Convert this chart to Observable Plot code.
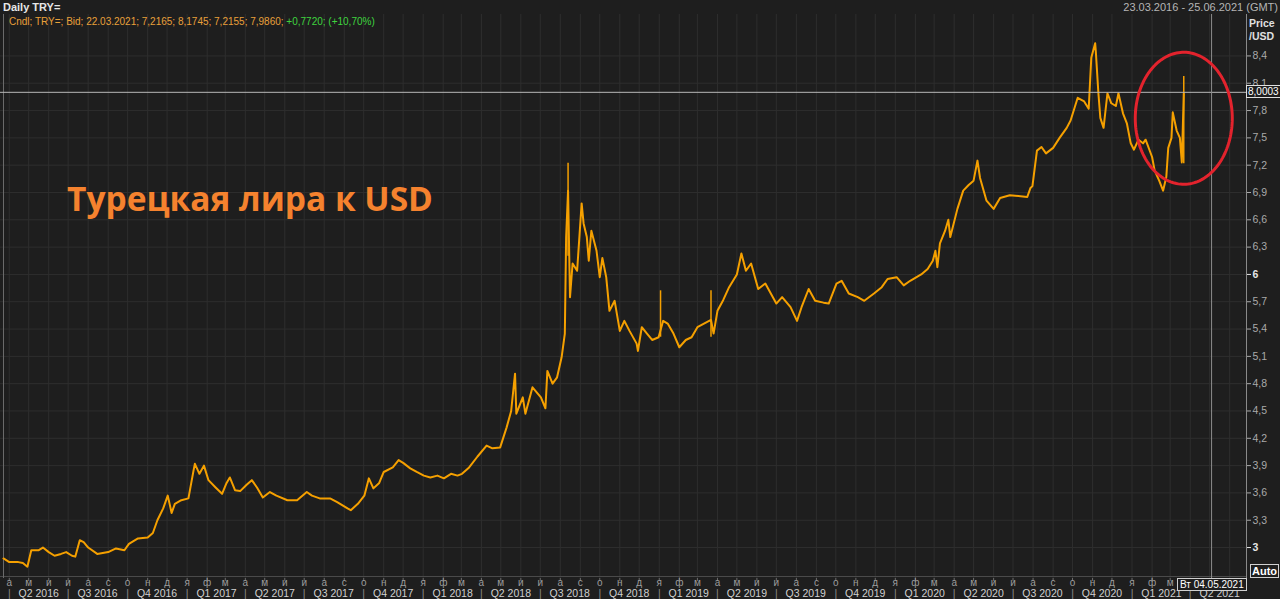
<!DOCTYPE html>
<html><head><meta charset="utf-8">
<script src="https://cdn.jsdelivr.net/npm/d3@7"></script>
<script src="https://cdn.jsdelivr.net/npm/@observablehq/plot@0.6"></script>
<style>
body{margin:0;background:#1e1e1e;}
#wrap{position:relative;width:1280px;height:599px;overflow:hidden;background:#1e1e1e;font-family:"Liberation Sans",Arial,sans-serif;}
#chart{position:absolute;left:0;top:0;}
.ov{position:absolute;white-space:nowrap;}
</style></head><body>
<div id="wrap">
<div id="chart"></div>
<div class="ov" style="left:3px;top:1px;font-size:11px;font-weight:bold;color:#e6e6e6;">Daily TRY=</div>
<div class="ov" style="left:9px;top:16px;font-size:10px;color:#e9a03a;">Cndl; TRY=; Bid; 22.03.2021; 7,2165; 8,1745; 7,2155; 7,9860; <span style="color:#3ed43e">+0,7720; (+10,70%)</span></div>
<div class="ov" style="right:2px;top:1px;font-size:11px;color:#b5b5b5;">23.03.2016 - 25.06.2021 (GMT)</div>
<div class="ov" style="left:1249px;top:17px;font-size:10.5px;font-weight:bold;color:#e0e0e0;line-height:13px;">Price<br>/USD</div>
<div class="ov" style="left:67px;top:175px;font-family:'Open Sans',sans-serif;font-size:33.5px;font-weight:bold;color:#f5822e;">Турецкая лира к USD</div>
<div class="ov" style="left:1246px;top:85px;border:1px solid #e0e0e0;background:#1e1e1e;color:#fff;font-size:10px;padding:0 1px;line-height:11px;">8,0003</div>
<div class="ov" style="left:1177px;top:578px;border:1px solid #d0d0d0;background:#1e1e1e;color:#fff;font-size:10px;padding:0 2px;line-height:11px;">Вт 04.05.2021</div>
<div class="ov" style="left:1250px;top:564px;border:1px solid #d0d0d0;color:#fff;font-weight:bold;font-size:11px;padding:0 1px;line-height:12px;">Auto</div>
</div>
<script>
const dates = [
"2016-03-23","2016-04-01","2016-04-15","2016-04-22","2016-04-29","2016-05-05","2016-05-16","2016-05-23","2016-06-01","2016-06-10",
"2016-06-20","2016-06-28","2016-07-07","2016-07-12","2016-07-19","2016-07-25","2016-08-01","2016-08-15","2016-09-01","2016-09-13",
"2016-09-26","2016-10-03","2016-10-17","2016-11-01","2016-11-09","2016-11-16","2016-11-25","2016-12-02","2016-12-08","2016-12-13",
"2016-12-23","2017-01-03","2017-01-11","2017-01-13","2017-01-20","2017-01-27","2017-02-03","2017-02-14","2017-02-24","2017-03-03",
"2017-03-08","2017-03-16","2017-03-24","2017-04-03","2017-04-11","2017-04-19","2017-04-28","2017-05-09","2017-05-19","2017-06-05",
"2017-06-20","2017-07-05","2017-07-13","2017-07-25","2017-08-10","2017-08-21","2017-09-06","2017-09-11","2017-09-22","2017-10-02",
"2017-10-09","2017-10-16","2017-10-25","2017-11-01","2017-11-15","2017-11-24","2017-12-01","2017-12-12","2017-12-22","2018-01-02",
"2018-01-12","2018-01-23","2018-02-02","2018-02-13","2018-02-23","2018-03-02","2018-03-13","2018-03-26","2018-04-09","2018-04-18",
"2018-04-30","2018-05-10","2018-05-17","2018-05-23","2018-05-25","2018-06-04","2018-06-08","2018-06-19","2018-07-02","2018-07-09",
"2018-07-12","2018-07-20","2018-07-27","2018-08-03","2018-08-08","2018-08-10","2018-08-13","2018-08-16","2018-08-20","2018-08-27",
"2018-09-03","2018-09-06","2018-09-11","2018-09-14","2018-09-18","2018-09-26","2018-10-01","2018-10-05","2018-10-11","2018-10-16",
"2018-10-24","2018-11-01","2018-11-08","2018-11-16","2018-11-27","2018-11-29","2018-12-05","2018-12-13","2018-12-21","2018-12-31",
"2019-01-07","2019-01-14","2019-01-23","2019-02-01","2019-02-11","2019-02-20","2019-03-01","2019-03-14","2019-03-22","2019-03-26",
"2019-04-01","2019-04-10","2019-04-19","2019-05-01","2019-05-08","2019-05-15","2019-05-23","2019-06-03","2019-06-14","2019-07-01",
"2019-07-10","2019-07-23","2019-08-02","2019-08-09","2019-08-20","2019-08-30","2019-09-12","2019-09-20","2019-10-02","2019-10-10",
"2019-10-21","2019-11-04","2019-11-14","2019-11-29","2019-12-11","2019-12-20","2020-01-03","2020-01-14","2020-01-24","2020-02-10",
"2020-02-20","2020-02-28","2020-03-03","2020-03-06","2020-03-10","2020-03-18","2020-03-23","2020-03-26","2020-04-06","2020-04-15",
"2020-04-23","2020-05-01","2020-05-07","2020-05-11","2020-05-21","2020-06-01","2020-06-11","2020-06-26","2020-07-23","2020-07-28",
"2020-07-31","2020-08-07","2020-08-14","2020-08-21","2020-09-01","2020-09-11","2020-09-22","2020-09-28","2020-10-09","2020-10-19",
"2020-10-26","2020-10-30","2020-11-05","2020-11-06","2020-11-10","2020-11-13","2020-11-18","2020-11-24","2020-11-30","2020-12-07",
"2020-12-11","2020-12-18","2020-12-24","2020-12-30","2021-01-04","2021-01-11","2021-01-18","2021-01-22","2021-02-01","2021-02-05",
"2021-02-12","2021-02-18","2021-02-23","2021-02-26","2021-03-03","2021-03-05","2021-03-11","2021-03-16","2021-03-19","2021-03-22"
];
const closes = [
2.88,2.84,2.84,2.83,2.79,2.97,2.97,3.00,2.95,2.91,
2.93,2.95,2.91,2.90,3.08,3.06,3.00,2.93,2.95,2.99,
2.97,3.04,3.10,3.11,3.16,3.30,3.43,3.57,3.38,3.48,
3.52,3.54,3.85,3.92,3.81,3.90,3.74,3.66,3.59,3.71,
3.77,3.63,3.62,3.69,3.74,3.66,3.55,3.61,3.57,3.52,
3.52,3.61,3.57,3.54,3.54,3.50,3.43,3.41,3.48,3.57,
3.76,3.65,3.71,3.83,3.88,3.96,3.93,3.87,3.83,3.79,
3.77,3.79,3.76,3.81,3.79,3.81,3.88,4.00,4.12,4.09,
4.10,4.32,4.50,4.91,4.47,4.65,4.47,4.76,4.65,4.53,
4.94,4.80,4.87,5.09,5.35,6.41,6.92,5.75,6.12,6.04,
6.78,6.56,6.41,6.15,6.48,6.26,5.97,6.18,5.97,5.60,
5.71,5.38,5.49,5.38,5.24,5.16,5.42,5.35,5.28,5.31,
5.49,5.46,5.35,5.20,5.28,5.31,5.42,5.47,5.50,5.35,
5.60,5.72,5.86,6.00,6.23,6.04,6.12,5.84,5.90,5.68,
5.75,5.64,5.49,5.64,5.84,5.71,5.69,5.68,5.90,5.93,
5.79,5.75,5.71,5.79,5.86,5.95,5.97,5.88,5.93,6.00,
6.06,6.15,6.26,6.08,6.34,6.48,6.60,6.41,6.72,6.92,
6.98,7.03,7.25,7.06,6.81,6.72,6.84,6.87,6.85,6.95,
6.97,7.36,7.40,7.33,7.39,7.50,7.61,7.69,7.94,7.90,
7.82,8.38,8.54,8.45,7.99,7.72,7.61,7.99,7.88,7.85,
7.99,7.77,7.66,7.44,7.37,7.48,7.44,7.48,7.29,7.14,
7.03,6.92,7.07,7.39,7.50,7.78,7.58,7.50,7.23,7.986
];
const wickDates = ["2018-08-13","2019-01-03","2019-03-22","2021-03-22"];
const wickLows  = [6.20, 5.31, 5.31, 7.2155];
const wickHighs = [7.22, 5.82, 5.82, 8.1745];
const yTicks = [3,3.3,3.6,3.9,4.2,4.5,4.8,5.1,5.4,5.7,6,6.3,6.6,6.9,7.2,7.5,7.8,8.1,8.4];
const monthLetters = ["я","ф","м","а","м","и","и","а","с","о","н","д"];
const quarterLabels = ["Q2 2016","Q3 2016","Q4 2016","Q1 2017","Q2 2017","Q3 2017","Q4 2017","Q1 2018","Q2 2018","Q3 2018","Q4 2018",
"Q1 2019","Q2 2019","Q3 2019","Q4 2019","Q1 2020","Q2 2020","Q3 2020","Q4 2020","Q1 2021","Q2 2021"];
const cursorDate = "2021-05-04";
const cursorValue = 8.0003;
const circleCenterDate = "2021-03-22", circleCenterValue = 7.715, circleRxDays = 75, circleRyValue = 0.725;

const xDomain = [new Date("2016-03-18T10:00:00Z"), new Date("2021-06-27T00:00:00Z")];
const yDomain = [2.66, 8.855];

const data = dates.map((d, i) => ({date: new Date(d), close: closes[i]}));
const wicks = wickDates.map((d, i) => ({date: new Date(d), low: wickLows[i], high: wickHighs[i]}));
const months = d3.utcMonth.range(new Date("2016-04-01"), xDomain[1]);
// month letters hidden behind the cursor date label are not shown (as in the reference)
const labelledMonths = months.filter(d => d < new Date("2021-04-01"));
const quarterStarts = d3.utcMonth.every(3).range(new Date("2016-04-01"), xDomain[1]);
const quarters = quarterStarts.map((q, i) => ({mid: new Date(+q + 45.5 * 864e5), label: quarterLabels[i]}));
const DAY = 864e5;
const c0 = +new Date(circleCenterDate);
const ellipse = d3.range(0, 2 * Math.PI, 0.04).map(t => ({
  date: new Date(c0 + circleRxDays * DAY * Math.cos(t)),
  value: circleCenterValue + circleRyValue * Math.sin(t)
}));
const fmt = v => String(v).replace(".", ",");
const orange = "#f5a000";

const chart = Plot.plot({
  width: 1280, height: 599,
  marginLeft: 0, marginRight: 34, marginTop: 14, marginBottom: 21,
  style: {background: "#1e1e1e", color: "#aaa", fontFamily: "Liberation Sans, Arial, sans-serif", overflow: "visible"},
  x: {type: "utc", domain: xDomain, axis: null},
  y: {domain: yDomain, axis: null},
  marks: [
    Plot.ruleX(months, {stroke: "#2e2e2e"}),
    Plot.ruleY(yTicks, {stroke: "#2e2e2e"}),
    Plot.ruleY([yDomain[0]], {stroke: "#4a4a4a", dy: -2}),
    Plot.ruleX([xDomain[0]], {stroke: "#6a6a6a", dx: 3}),
    Plot.ruleX([xDomain[1]], {stroke: "#8a8a8a"}),
    Plot.line(data, {x: "date", y: "close", stroke: orange, strokeWidth: 2, strokeLinejoin: "round"}),
    Plot.ruleX(wicks, {x: "date", y1: "low", y2: "high", stroke: orange, strokeWidth: 1.5}),
    Plot.ruleY([cursorValue], {stroke: "#b8b8b8"}),
    Plot.ruleX([new Date(cursorDate)], {stroke: "#8c8c8c"}),
    Plot.line(ellipse, {x: "date", y: "value", stroke: "#e3232d", strokeWidth: 3, curve: "linear-closed"}),
    Plot.axisY(yTicks.filter(v => !Number.isInteger(v)), {anchor: "right", tickSize: 4, tickPadding: 2, color: "#aaa", fontSize: 10.5, tickFormat: fmt}),
    Plot.axisY(yTicks.filter(v => Number.isInteger(v)), {anchor: "right", tickSize: 4, tickPadding: 2, color: "#e6e6e6", fontSize: 10.5, fontWeight: "bold", tickFormat: fmt}),
    Plot.axisX(months, {anchor: "bottom", tickSize: 3, tickFormat: () => "", color: "#6e6e6e"}),
    Plot.text(labelledMonths, {x: d => d, text: d => monthLetters[d.getUTCMonth()], frameAnchor: "bottom", dy: 7, fill: "#9c9c9c", fontSize: 10}),
    Plot.text(quarters, {x: "mid", text: "label", frameAnchor: "bottom", dy: 18.5, fill: "#d0d0d0", fontSize: 10.5}),
    Plot.text(quarterStarts, {x: d => d, text: () => "|", frameAnchor: "bottom", dy: 18.5, fill: "#8a8a8a", fontSize: 10.5})
  ]
});
document.getElementById("chart").appendChild(chart);
</script>
</body></html>
